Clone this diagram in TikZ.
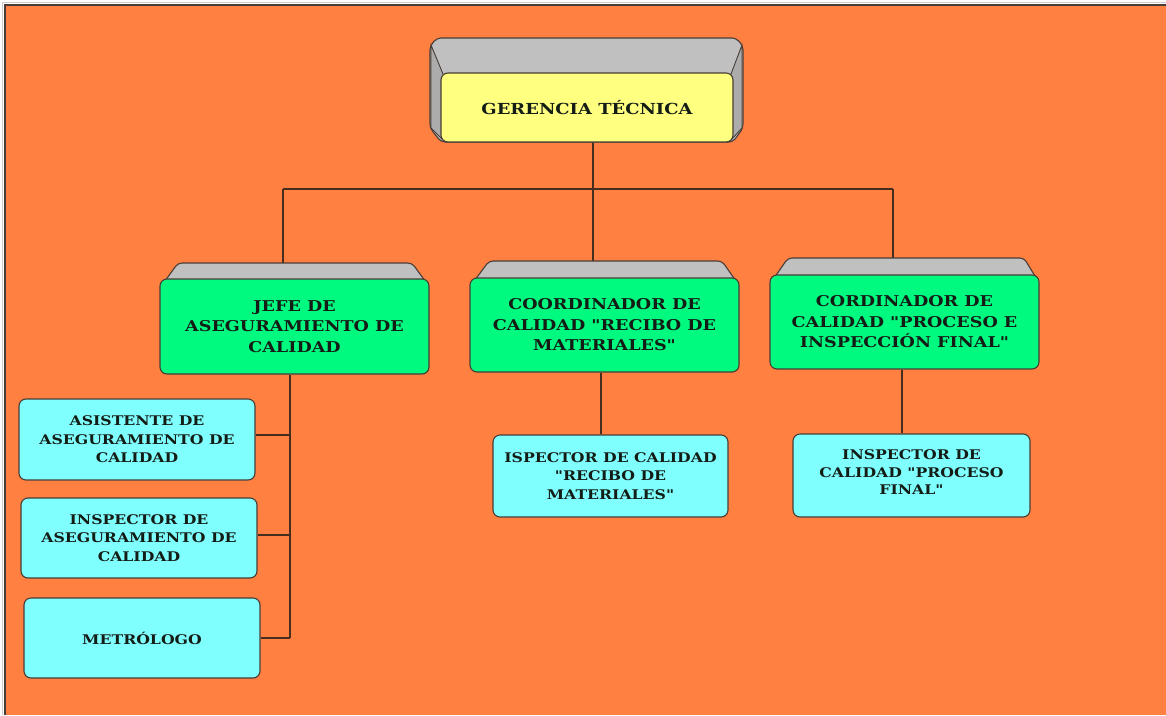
\documentclass[tikz,border=0pt]{standalone}
\usepackage{fontspec}
\setmainfont{DejaVu Serif}[Ligatures=TeXOff,FakeStretch=1.18]
\definecolor{bgor}{RGB}{255,128,64}
\definecolor{boxgreen}{RGB}{0,250,128}
\definecolor{boxyel}{RGB}{255,255,128}
\definecolor{boxcyan}{RGB}{128,255,255}
\definecolor{bevel}{RGB}{192,192,192}
\definecolor{bevelside}{RGB}{172,172,172}
\definecolor{edge}{RGB}{72,60,54}
\definecolor{wire}{RGB}{70,45,30}
\definecolor{ink}{RGB}{20,28,22}
\begin{document}
\begin{tikzpicture}[x=1pt,y=-1pt,
  box/.style={draw=edge,line width=1.1pt,rounded corners=7pt,align=center,inner sep=0pt,text=ink,font=\bfseries},
  topbox/.style={box,fill=boxyel,font=\bfseries\fontsize{15.2}{19}\selectfont},
  midbox/.style={box,fill=boxgreen,font=\bfseries\fontsize{14.9}{20.5}\selectfont},
  lowbox/.style={box,fill=boxcyan,font=\bfseries\fontsize{13.3}{18.5}\selectfont},
  bev/.style={draw=edge,line width=1.1pt,fill=bevel,rounded corners=4pt},
  wirestyle/.style={draw=wire,line width=1.3pt}]
\useasboundingbox (0,0) rectangle (1166,715);
% background
\fill[white] (0,0) rectangle (1166,715);
\fill[bgor] (5,5) rectangle (1166,715);
\draw[edge,line width=1.6pt] (5,715) -- (5,5) -- (1166,5);
\draw[gray!40,line width=0.8pt] (2,715) -- (2,2) -- (1166,2);

% connectors (drawn first, boxes cover ends)
\coordinate (bus) at (593,189);
\coordinate (busL) at (283,189);
\coordinate (busR) at (893,189);
\coordinate (t1) at (283,263);
\coordinate (t2) at (593,261);
\coordinate (t3) at (893,258);
\coordinate (gb) at (593,142);
\draw[wirestyle] (gb) -- (bus);
\draw[wirestyle] (busL) -- (busR);
\draw[wirestyle] (busL) -- (t1);
\draw[wirestyle] (bus) -- (t2);
\draw[wirestyle] (busR) -- (t3);

% bevel for top box
\filldraw[bev] (430,46) -- (437,38) -- (736,38) -- (743,46) -- (743,128) -- (733,142) -- (441,142) -- (430,128) -- cycle;
\filldraw[draw=edge,line width=0.9pt,fill=bevelside] (431,45) -- (443,74) -- (443,140) -- (431,128) -- cycle;
\filldraw[draw=edge,line width=0.9pt,fill=bevelside] (742,45) -- (731,74) -- (731,140) -- (742,128) -- cycle;
% bevel tops for mid boxes
\filldraw[bev] (162,285) -- (178,263) -- (412,263) -- (428,285) -- cycle;
\filldraw[bev] (472,284) -- (489,261) -- (722,261) -- (738,284) -- cycle;
\filldraw[bev] (772,281) -- (788,258) -- (1024,258) -- (1038,281) -- cycle;

% nodes
\node[topbox,minimum width=292pt,minimum height=69pt] (g) at (587,107.5) {GERENCIA TÉCNICA};
\node[midbox,minimum width=269pt,minimum height=95pt] (j1) at (294.5,326.5) {JEFE DE\\ASEGURAMIENTO DE\\CALIDAD};
\node[midbox,minimum width=269pt,minimum height=94pt] (j2) at (604.5,325) {COORDINADOR DE\\CALIDAD "RECIBO DE\\MATERIALES"};
\node[midbox,minimum width=269pt,minimum height=94pt] (j3) at (904.5,322) {CORDINADOR DE\\CALIDAD "PROCESO E\\INSPECCIÓN FINAL"};
\node[lowbox,minimum width=236pt,minimum height=81pt] (a1) at (137,439.5) {ASISTENTE DE\\ASEGURAMIENTO DE\\CALIDAD};
\node[lowbox,minimum width=236pt,minimum height=80pt] (a2) at (139,538) {INSPECTOR DE\\ASEGURAMIENTO DE\\CALIDAD};
\node[lowbox,minimum width=236pt,minimum height=80pt] (a3) at (142,638) {METRÓLOGO};
\node[lowbox,minimum width=235pt,minimum height=82pt] (b1) at (610.5,476) {ISPECTOR DE CALIDAD\\"RECIBO DE\\MATERIALES"};
\node[lowbox,minimum width=237pt,minimum height=83pt,font=\bfseries\fontsize{13.3}{17.8}\selectfont] (c1) at (911.5,475.5) {INSPECTOR DE\\CALIDAD "PROCESO\\FINAL"\\[-11pt]\mbox{}};

% lower connectors
\coordinate (v1) at (290,638);
\draw[wirestyle] (j1.south -| v1) -- (v1);
\draw[wirestyle] (a1.east |- 0,435) -- (290,435);
\draw[wirestyle] (a2.east |- 0,535) -- (290,535);
\draw[wirestyle] (a3.east |- v1) -- (v1);
\draw[wirestyle] (j2.south -| 601,0) -- (b1.north -| 601,0);
\draw[wirestyle] (j3.south -| 902,0) -- (c1.north -| 902,0);
\end{tikzpicture}
\end{document}
